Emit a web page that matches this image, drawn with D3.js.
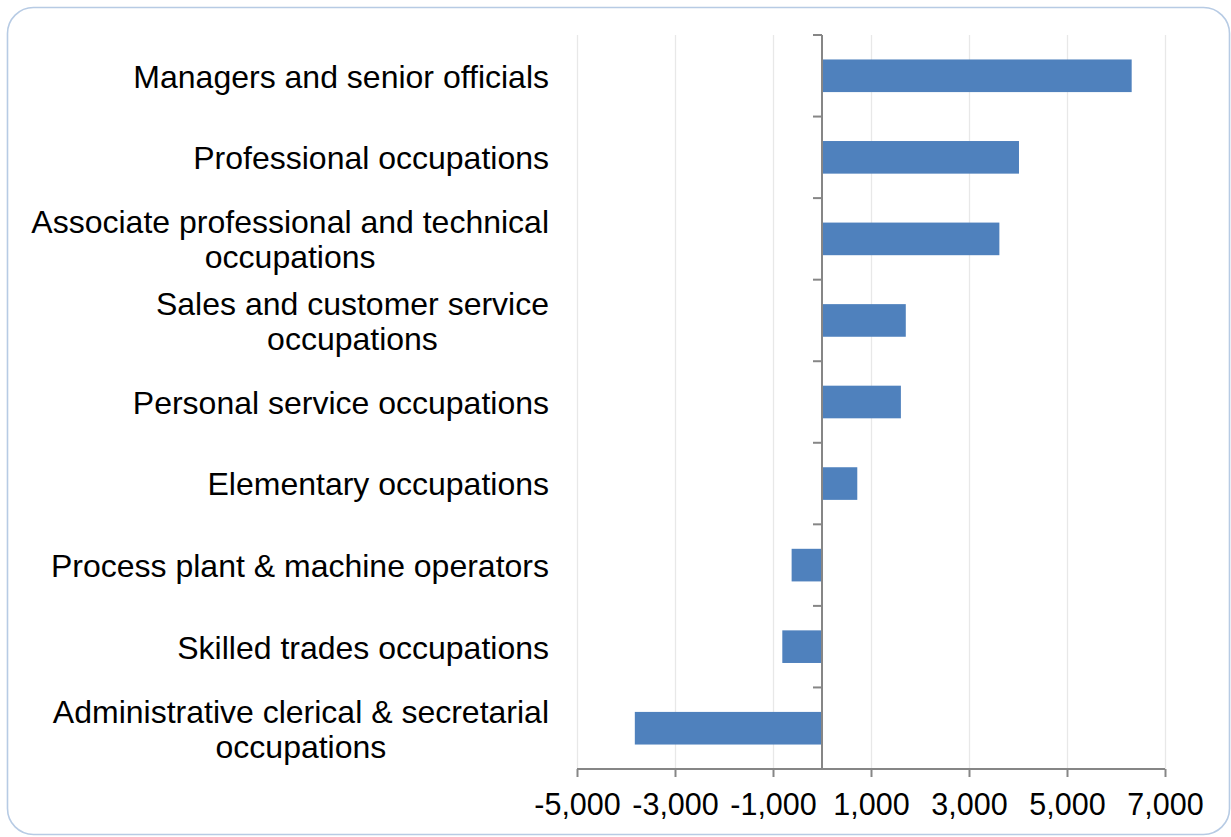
<!DOCTYPE html>
<html>
<head>
<meta charset="utf-8">
<script src="https://cdn.jsdelivr.net/npm/d3@7"></script>
<style>
  html, body { margin: 0; padding: 0; background: #ffffff; }
  svg { display: block; }
  text { font-family: "Liberation Sans", Arial, sans-serif; fill: #000; }
</style>
</head>
<body>
<svg id="chart" width="1231" height="837"></svg>
<script>
// Occupation groups, top to bottom (long names wrap onto two lines)
const categories = [
  ["Managers and senior officials"],
  ["Professional occupations"],
  ["Associate professional and technical", "occupations"],
  ["Sales and customer service", "occupations"],
  ["Personal service occupations"],
  ["Elementary occupations"],
  ["Process plant & machine operators"],
  ["Skilled trades occupations"],
  ["Administrative clerical & secretarial", "occupations"]
];
// Change in employment for each group
const values = [6320, 4020, 3620, 1710, 1610, 720, -620, -810, -3820];
// Horizontal axis tick values
const xTicks = [-5000, -3000, -1000, 1000, 3000, 5000, 7000];

const plot = { left: 577, right: 1165, top: 35, bottom: 769 };
const labelRight = 549;
const svg = d3.select("#chart");

// Rounded chart frame
svg.append("rect")
  .attr("x", 7.5).attr("y", 7.5)
  .attr("width", 1222).attr("height", 827)
  .attr("rx", 26).attr("ry", 26)
  .attr("fill", "#ffffff")
  .attr("stroke", "#b7cbe4")
  .attr("stroke-width", 1.6);

const x = d3.scaleLinear().domain([-5000, 7000]).range([plot.left, plot.right]);
const keys = categories.map((c, i) => i);
const y = d3.scaleBand().domain(keys).range([plot.top, plot.bottom])
  .paddingInner(0.6).paddingOuter(0.3);
const step = y.step();

// Vertical gridlines
svg.append("g").selectAll("line").data(xTicks).join("line")
  .attr("x1", d => Math.round(x(d)) + 0.5).attr("x2", d => Math.round(x(d)) + 0.5)
  .attr("y1", plot.top).attr("y2", plot.bottom)
  .attr("stroke", "#e8e8e8").attr("stroke-width", 1.3);

// Bars
svg.append("g").selectAll("rect").data(values).join("rect")
  .attr("x", d => x(Math.min(0, d)))
  .attr("width", d => Math.abs(x(d) - x(0)))
  .attr("y", (d, i) => y(i))
  .attr("height", y.bandwidth())
  .attr("fill", "#4f81bd");

// Horizontal axis (plain hyphen for negatives)
const fmt = d3.format(",");
const xAxis = d3.axisBottom(x).tickValues(xTicks)
  .tickFormat(d => fmt(d).replace("\u2212", "-")).tickSize(8).tickSizeOuter(0);
const gx = svg.append("g").attr("transform", `translate(0,${plot.bottom})`).call(xAxis);
gx.select(".domain").attr("stroke", "#868686").attr("stroke-width", 2)
  .attr("d", `M${plot.left},0H${plot.right}`);
gx.selectAll(".tick line").attr("stroke", "#868686").attr("stroke-width", 2);
gx.selectAll(".tick text")
  .attr("y", 46).attr("dy", null)
  .style("font-size", "30.5px")
  .style("font-family", "'Liberation Sans', Arial, sans-serif")
  .attr("fill", "#000");

// Vertical axis at zero with category boundary ticks
const boundaries = d3.range(categories.length + 1).map(i => plot.top + i * step);
const gy = svg.append("g");
gy.append("line")
  .attr("x1", x(0)).attr("x2", x(0))
  .attr("y1", plot.top).attr("y2", plot.bottom)
  .attr("stroke", "#868686").attr("stroke-width", 2);
gy.selectAll("line.tk").data(boundaries).join("line").attr("class", "tk")
  .attr("x1", x(0) - 9).attr("x2", x(0))
  .attr("y1", d => d).attr("y2", d => d)
  .attr("stroke", "#868686").attr("stroke-width", 2);

// Category labels: block right-aligned to the plot, wrapped lines centred in the block
const fontSize = 32, lineH = 35;
const labels = svg.append("g").style("font-size", fontSize + "px");
categories.forEach((lines, i) => {
  const cy = y(i) + y.bandwidth() / 2;
  const g = labels.append("g");
  const texts = lines.map((ln, j) => g.append("text")
    .attr("y", cy + (j - (lines.length - 1) / 2) * lineH)
    .attr("dy", "0.37em")
    .text(ln));
  const widths = texts.map(t => t.node().getComputedTextLength());
  const blockW = d3.max(widths);
  const centre = labelRight - blockW / 2;
  texts.forEach(t => t.attr("x", centre).attr("text-anchor", "middle"));
});
</script>
</body>
</html>
